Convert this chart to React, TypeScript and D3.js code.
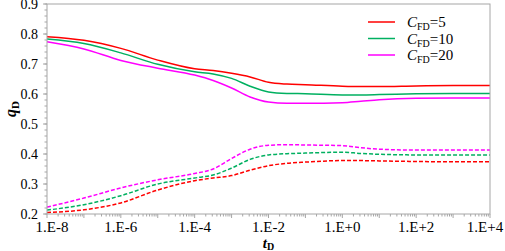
import React from "react";
import * as d3 from "d3";

const logT = [-8, -7, -6, -5, -4, -3.5, -3, -2.5, -2, -1.5, -1, 0, 0.5, 1, 2, 3, 4];

const solid5 = [0.791, 0.779, 0.752, 0.713, 0.684, 0.678, 0.669, 0.657, 0.639, 0.633, 0.631, 0.626, 0.625, 0.625, 0.627, 0.628, 0.628];
const solid10 = [0.783, 0.768, 0.737, 0.699, 0.674, 0.667, 0.652, 0.626, 0.607, 0.602, 0.601, 0.597, 0.597, 0.598, 0.601, 0.602, 0.602];
const solid20 = [0.774, 0.750, 0.712, 0.686, 0.663, 0.645, 0.620, 0.590, 0.573, 0.569, 0.569, 0.571, 0.576, 0.581, 0.586, 0.587, 0.587];

const dash5 = [0.205, 0.214, 0.237, 0.280, 0.311, 0.320, 0.328, 0.346, 0.361, 0.369, 0.373, 0.378, 0.378, 0.377, 0.375, 0.374, 0.374];
const dash10 = [0.213, 0.231, 0.261, 0.300, 0.320, 0.330, 0.353, 0.382, 0.397, 0.401, 0.403, 0.406, 0.402, 0.399, 0.397, 0.397, 0.397];
const dash20 = [0.223, 0.253, 0.287, 0.314, 0.335, 0.350, 0.385, 0.416, 0.429, 0.431, 0.430, 0.428, 0.421, 0.416, 0.413, 0.413, 0.413];

const seriesNames = ["5", "10", "20"];
const seriesColors = ["#ff0000", "#00b060", "#ff00ff"];
const solidSeries = [solid5, solid10, solid20];
const dashSeries = [dash5, dash10, dash20];

const xTickExps = [-8, -6, -4, -2, 0, 2, 4];
const xTickLabels = ["1.E-8", "1.E-6", "1.E-4", "1.E-2", "1.E+0", "1.E+2", "1.E+4"];
const yTicks = [0.2, 0.3, 0.4, 0.5, 0.6, 0.7, 0.8, 0.9];

const W = 505, H = 251;
const margin = { left: 47, top: 4, right: 15, bottom: 37 };
const font = "'Liberation Serif', 'Times New Roman', Times, serif";
const axisColor = "#a6a6a6";
const tf: React.CSSProperties = { fontFamily: font };

export default function App() {
  const x = d3.scaleLog().domain([1e-8, 1e4]).range([margin.left, W - margin.right]);
  const y = d3.scaleLinear().domain([0.2, 0.9]).range([H - margin.bottom, margin.top]);
  const line = d3
    .line<[number, number]>()
    .x((d) => x(Math.pow(10, d[0])))
    .y((d) => y(d[1]))
    .curve(d3.curveMonotoneX);

  const x0 = margin.left, x1 = W - margin.right, y0 = H - margin.bottom, y1 = margin.top;

  const minorX: number[] = [];
  for (let e = -8; e < 4; e++) for (let k = 2; k <= 9; k++) minorX.push(k * Math.pow(10, e));
  const decades: number[] = [];
  for (let e = -8; e <= 4; e++) decades.push(Math.pow(10, e));
  const minorY: number[] = [];
  for (let i = 0; i <= 35; i++) minorY.push(0.2 + i * 0.02);

  const labelX = (e: number, i: number) => {
    const px = x(Math.pow(10, e));
    if (i === 0) return px + 5;
    if (i === xTickExps.length - 1) return px - 5;
    return px;
  };

  return (
    <svg width={W} height={H} style={{ position: "absolute", left: 0, top: 0, background: "#fff", fontFamily: font }}>
      <rect x={0} y={0} width={W} height={H} fill="#fff" />
      {solidSeries.map((s, i) => (
        <path key={"s" + i} d={line(logT.map((t, j) => [t, s[j]]) as [number, number][]) || ""} fill="none" stroke={seriesColors[i]} strokeWidth={1.5} />
      ))}
      {dashSeries.map((s, i) => (
        <path key={"d" + i} d={line(logT.map((t, j) => [t, s[j]]) as [number, number][]) || ""} fill="none" stroke={seriesColors[i]} strokeWidth={1.5} strokeDasharray="4,2" />
      ))}
      <rect x={x0} y={y1} width={x1 - x0} height={y0 - y1} fill="none" stroke={axisColor} strokeWidth={1} />
      {minorX.map((v, i) => (
        <line key={"mx" + i} x1={x(v)} x2={x(v)} y1={y0} y2={y0 + 2.5} stroke={axisColor} />
      ))}
      {decades.map((v, i) => (
        <line key={"dx" + i} x1={x(v)} x2={x(v)} y1={y0} y2={y0 + 4} stroke={axisColor} />
      ))}
      {xTickExps.map((e, i) => (
        <text key={"xl" + i} x={labelX(e, i)} y={y0 + 18} textAnchor="middle" fontSize={15} fill="#000" style={tf}>
          {xTickLabels[i]}
        </text>
      ))}
      {minorY.map((v, i) => (
        <line key={"my" + i} x1={x0 - 2.5} x2={x0} y1={y(v)} y2={y(v)} stroke={axisColor} />
      ))}
      {yTicks.map((v, i) => (
        <g key={"yt" + i}>
          <line x1={x0 - 4} x2={x0} y1={y(v)} y2={y(v)} stroke={axisColor} />
          <text x={x0 - 9} y={y(v) + 5} textAnchor="end" fontSize={14} fill="#000" style={tf}>
            {v.toFixed(1)}
          </text>
        </g>
      ))}
      <text x={(x0 + x1) / 2} y={H - 3} textAnchor="middle" fontSize={15} fontWeight="bold" fill="#000" style={tf}>
        <tspan fontStyle="italic">t</tspan>
        <tspan fontSize={10} dy={2}>D</tspan>
      </text>
      <text transform={`translate(16,${(y0 + y1) / 2}) rotate(-90)`} textAnchor="middle" fontSize={16} fontWeight="bold" fill="#000" style={tf}>
        <tspan fontStyle="italic">q</tspan>
        <tspan fontSize={11} dy={3}>D</tspan>
      </text>
      {seriesNames.map((n, i) => (
        <g key={"lg" + i} transform={`translate(368,${22 + i * 16.5})`}>
          <line x1={0} x2={27} y1={0} y2={0} stroke={seriesColors[i]} strokeWidth={1.5} />
          <text x={39} y={5} fontSize={15} fill="#000" style={tf}>
            <tspan fontStyle="italic">C</tspan>
            <tspan fontSize={10} dy={3}>FD</tspan>
            <tspan dy={-3}>={n}</tspan>
          </text>
        </g>
      ))}
    </svg>
  );
}
